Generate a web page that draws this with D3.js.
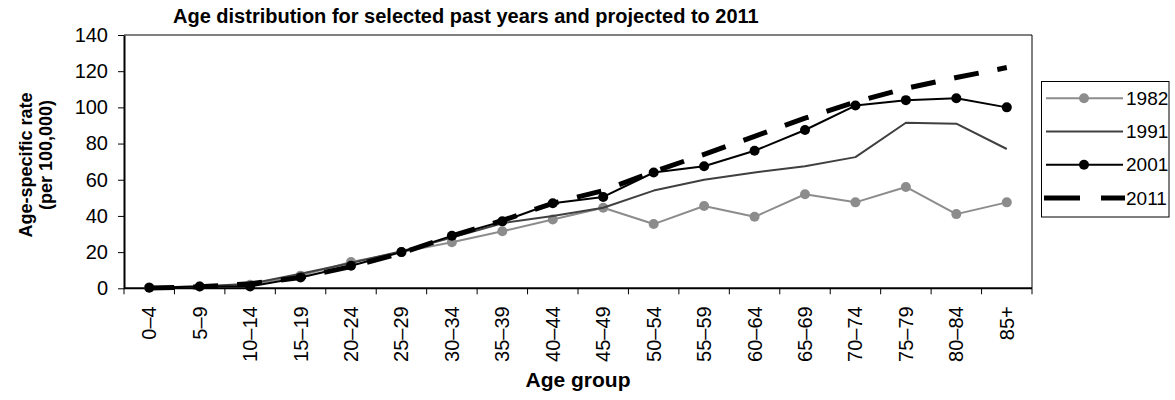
<!DOCTYPE html>
<html>
<head>
<meta charset="utf-8">
<script src="https://cdn.jsdelivr.net/npm/d3@7"></script>
<style>
  html, body { margin: 0; padding: 0; background: #fff; }
  svg { display: block; font-family: "Liberation Sans", Arial, sans-serif; }
</style>
</head>
<body>
<svg id="chart" width="1175" height="400"></svg>
<script>
const categories = ["0–4","5–9","10–14","15–19","20–24","25–29","30–34","35–39","40–44","45–49","50–54","55–59","60–64","65–69","70–74","75–79","80–84","85+"];
const values1982 = [0.5, 1.0, 2.0, 7.0, 14.5, 20, 25.5, 31.5, 38, 44.5, 35.5, 45.5, 39.5, 52, 47.5, 56, 41, 47.5];
const values1991 = [0.5, 1.0, 2.5, 8.0, 14, 20.5, 28, 36, 40, 44.5, 54, 60, 64, 67.5, 72.5, 91.5, 91, 77];
const values2001 = [0.3, 1.0, 1.0, 6.0, 12.5, 20, 29, 37, 47, 50.5, 64, 67.5, 76, 87.5, 101, 104, 105, 100];
const values2011 = [0.2, 0.8, 2.5, 6, 12, 19.5, 29, 37.5, 47, 54, 64.5, 74, 84, 94, 103, 110.5, 116.5, 122];
const yTicks = [0, 20, 40, 60, 80, 100, 120, 140];
const seriesNames = ["1982", "1991", "2001", "2011"];

const series = [
  { name: seriesNames[0], values: values1982, color: "#8c8c8c", width: 2, marker: true, dash: null },
  { name: seriesNames[1], values: values1991, color: "#404040", width: 2, marker: false, dash: null },
  { name: seriesNames[2], values: values2001, color: "#000000", width: 2, marker: true, dash: null },
  { name: seriesNames[3], values: values2011, color: "#000000", width: 5, marker: false, dash: "25,19" }
];

const svg = d3.select("#chart");
const L = 124, R = 1032, T = 35, B = 288.3;

const x = d3.scaleBand().domain(categories).range([L, R]).padding(0);
const y = d3.scaleLinear().domain([0, 140]).range([B, T]);
const cx = d => x(d) + x.bandwidth() / 2;

// plot frame (top/right)
svg.append("line").attr("x1", L).attr("x2", R).attr("y1", T).attr("y2", T).attr("stroke", "#000").attr("stroke-width", 1);
svg.append("line").attr("x1", R).attr("x2", R).attr("y1", T).attr("y2", B).attr("stroke", "#000").attr("stroke-width", 1);

// y axis
const yAxis = svg.append("g").attr("transform", `translate(${L},0)`)
  .call(d3.axisLeft(y).tickValues(yTicks).tickSize(6).tickPadding(10).tickSizeOuter(0));
yAxis.select(".domain").attr("stroke-width", 2);
yAxis.selectAll(".tick line").attr("stroke-width", 1);
yAxis.selectAll(".tick text").attr("font-size", 20).attr("font-family", "Liberation Sans, Arial, sans-serif").attr("fill", "#000");

// x axis: ticks at band boundaries
const xAxisG = svg.append("g").attr("transform", `translate(0,${B})`);
xAxisG.append("line").attr("x1", L).attr("x2", R).attr("y1", 0).attr("y2", 0).attr("stroke", "#000").attr("stroke-width", 2);
const bounds = categories.map(c => x(c)).concat([R]);
xAxisG.selectAll("line.tk").data(bounds).enter().append("line").attr("class", "tk")
  .attr("x1", d => d).attr("x2", d => d).attr("y1", 0).attr("y2", 6).attr("stroke", "#000").attr("stroke-width", 1);
xAxisG.selectAll("text.lbl").data(categories).enter().append("text").attr("class", "lbl")
  .attr("transform", d => `translate(${cx(d) + 7},18) rotate(-90)`)
  .attr("text-anchor", "end")
  .attr("font-size", 20)
  .text(d => d);

// lines
series.forEach(s => {
  const line = d3.line().x((d, i) => cx(categories[i])).y(d => y(d));
  svg.append("path").datum(s.values)
    .attr("d", line)
    .attr("fill", "none")
    .attr("stroke", s.color)
    .attr("stroke-width", s.width)
    .attr("stroke-linejoin", "round")
    .attr("stroke-dasharray", s.dash);
  if (s.marker) {
    svg.append("g").selectAll("circle").data(s.values).enter().append("circle")
      .attr("cx", (d, i) => cx(categories[i]))
      .attr("cy", d => y(d))
      .attr("r", 5)
      .attr("fill", s.color);
  }
});

// title
svg.append("text").attr("x", 173).attr("y", 22.5)
  .attr("font-size", 20).attr("font-weight", "bold")
  .text("Age distribution for selected past years and projected to 2011");

// x axis title
svg.append("text").attr("x", (L + R) / 2).attr("y", 387)
  .attr("text-anchor", "middle").attr("font-size", 21).attr("font-weight", "bold")
  .text("Age group");

// y axis title
const yt = svg.append("g");
yt.append("text").attr("transform", "translate(32,165) rotate(-90)")
  .attr("text-anchor", "middle").attr("font-size", 18).attr("font-weight", "bold")
  .text("Age-specific rate");
yt.append("text").attr("transform", "translate(52,155) rotate(-90)")
  .attr("text-anchor", "middle").attr("font-size", 18).attr("font-weight", "bold")
  .text("(per 100,000)");

// legend
const lg = svg.append("g");
lg.append("rect").attr("x", 1041.5).attr("y", 81.5).attr("width", 127.5).attr("height", 135.5)
  .attr("fill", "#fff").attr("stroke", "#000").attr("stroke-width", 1);
const legendY = d3.scalePoint().domain(seriesNames).range([98.3, 198]);
series.forEach(s => {
  const yy = legendY(s.name);
  lg.append("line").attr("x1", s.dash ? 1044 : 1046).attr("x2", s.dash ? 1125 : 1123).attr("y1", yy).attr("y2", yy)
    .attr("stroke", s.color).attr("stroke-width", s.width)
    .attr("stroke-dasharray", s.dash ? "36,21" : null);
  if (s.marker) {
    lg.append("circle").attr("cx", 1084).attr("cy", yy).attr("r", 5).attr("fill", s.color);
  }
  lg.append("text").attr("x", 1126).attr("y", yy).attr("dy", "0.35em")
    .attr("font-size", 19).text(s.name);
});
</script>
</body>
</html>
